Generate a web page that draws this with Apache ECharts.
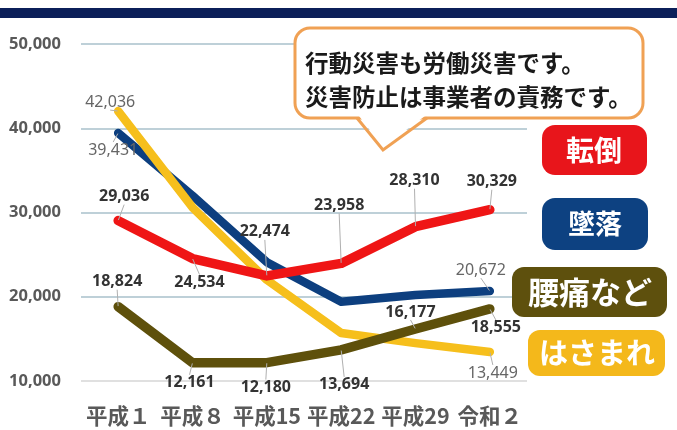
<!DOCTYPE html>
<html><head><meta charset="utf-8">
<script src="https://cdn.jsdelivr.net/npm/echarts@6/dist/echarts.min.js"></script>
<style>html,body{margin:0;padding:0;background:#fff}#c{width:677px;height:430px}</style>
</head><body><div id="c"></div>
<script>
var categories = ['平成１', '平成８', '平成15', '平成22', '平成29', '令和２'];
var yTicks = [10000, 20000, 30000, 40000, 50000];
var tentou = [29036, 24534, 22474, 23958, 28310, 30329];   // 転倒
var tsuiraku = [39431, 32000, 24100, 19400, 20200, 20672]; // 墜落
var youtsuu = [18824, 12161, 12180, 13694, 16177, 18555];  // 腰痛など
var hasamare = [42036, 30600, 22000, 15700, 14500, 13449]; // はさまれ
var seriesNames = ['転倒', '墜落', '腰痛など', 'はさまれ'];
var calloutLines = ['行動災害も労働災害です。', '災害防止は事業者の責務です。'];

var FONT = "'Noto Sans CJK JP', 'Noto Sans', sans-serif";
var NUMFONT = "'Noto Sans', 'DejaVu Sans', sans-serif";

// label offsets (layout only)
var offRed = [[6,-24],[7,24],[-2,-44],[-2,-58],[-1,-46],[2,-28]];
var offOlive = [[-1,-25],[-3,20],[-1,25],[3,35],[-5,-17],[6,19]];
var offBlue = [[-5,17],null,null,null,null,[-9,-21]];
var offYellow = [[-8,-9],null,null,null,null,[3,21]];

function fmt(v){ return v.toLocaleString('en-US'); }

function mkSeries(name, vals, color, width, offs, bold, z){
  return {
    type: 'line', name: name, data: vals, z: z,
    symbol: 'circle', symbolSize: 1, showSymbol: true, showAllSymbol: true,
    itemStyle: {color: color},
    lineStyle: {color: color, width: width, cap: 'round', join: 'round'},
    label: {
      show: true, position: 'inside', opacity: 1,
      formatter: function(p){ return offs[p.dataIndex] ? fmt(p.value) : ''; },
      fontFamily: NUMFONT, fontSize: 16,
      fontWeight: bold ? 'bold' : 'normal',
      color: bold ? '#333' : '#666'
    },
    labelLine: {show: true, lineStyle: {color: '#b0b0b0', width: 1}},
    labelLayout: function(p){
      var o = offs[p.dataIndex];
      if (!o) return {};
      return {dx: o[0], dy: o[1]};
    }
  };
}

var chart = echarts.init(document.getElementById('c'));
var option = {
  backgroundColor: '#fff',
  animation: false,
  grid: {left: 81, right: 150, top: 44, bottom: 49},
  xAxis: {
    type: 'category', data: categories, boundaryGap: true,
    axisLine: {show: false}, axisTick: {show: false},
    axisLabel: {interval: 0, fontFamily: FONT, fontSize: 21.5, fontWeight: 'bold', color: '#595959', margin: 24}
  },
  yAxis: {
    type: 'value', min: 10000, max: 50000, interval: 10000,
    axisLine: {show: false}, axisTick: {show: false},
    axisLabel: {fontFamily: NUMFONT, fontSize: 16.5, fontWeight: 'bold', color: '#595959', margin: 20,
      formatter: function(v){ return fmt(v); }},
    splitLine: {lineStyle: {color: ['#d6d6d6','#a9c0cb','#a9c0cb','#a9c0cb','#a9c0cb'], width: 1.5}}
  },
  series: [
    mkSeries(seriesNames[1], tsuiraku, '#0d3f7f', 8.5, offBlue, false, 2),
    mkSeries(seriesNames[3], hasamare, '#f6bf1c', 8.5, offYellow, false, 3),
    mkSeries(seriesNames[2], youtsuu, '#5e500b', 9.5, offOlive, true, 4),
    mkSeries(seriesNames[0], tentou, '#ef1515', 9.5, offRed, true, 5)
  ],
  graphic: [
    {type: 'rect', z: 10, shape: {x: 0, y: 8, width: 677, height: 10}, style: {fill: '#0b1f59'}},
    {type: 'rect', z: 20, shape: {x: 295, y: 28, width: 348, height: 90, r: 15}, style: {fill: '#fff', stroke: '#f0a154', lineWidth: 3}},
    {type: 'polygon', z: 21, shape: {points: [[359,116],[383,147],[425,116]]}, style: {fill: '#fff'}},
    {type: 'polyline', z: 22, shape: {points: [[357,118],[383,150],[427,118]]}, style: {stroke: '#f0a154', lineWidth: 3, fill: null}},
    {type: 'text', z: 23, x: 305, y: 63, style: {text: calloutLines[0], fontFamily: FONT, fontSize: 23.5, fontWeight: 'bold', fill: '#1a1a1a', verticalAlign: 'middle'}},
    {type: 'text', z: 23, x: 305, y: 97, style: {text: calloutLines[1], fontFamily: FONT, fontSize: 23.5, fontWeight: 'bold', fill: '#1a1a1a', verticalAlign: 'middle'}},
    {type: 'rect', z: 20, shape: {x: 542, y: 125, width: 105, height: 50, r: 13}, style: {fill: '#e8151b'}},
    {type: 'text', z: 21, x: 594, y: 150, style: {text: seriesNames[0], fontFamily: FONT, fontSize: 28, fontWeight: 'bold', fill: '#fff', align: 'center', verticalAlign: 'middle'}},
    {type: 'rect', z: 20, shape: {x: 542, y: 198, width: 106, height: 52, r: 13}, style: {fill: '#0d4181'}},
    {type: 'text', z: 21, x: 595, y: 224, style: {text: seriesNames[1], fontFamily: FONT, fontSize: 27, fontWeight: 'bold', fill: '#fff', align: 'center', verticalAlign: 'middle'}},
    {type: 'rect', z: 20, shape: {x: 512, y: 267, width: 155, height: 50, r: 12}, style: {fill: '#5e500d'}},
    {type: 'text', z: 21, x: 590, y: 292, style: {text: seriesNames[2], fontFamily: FONT, fontSize: 31, fontWeight: 'bold', fill: '#fff', align: 'center', verticalAlign: 'middle'}},
    {type: 'rect', z: 20, shape: {x: 528, y: 330, width: 137, height: 46, r: 12}, style: {fill: '#f4b81b'}},
    {type: 'text', z: 21, x: 597, y: 353, style: {text: seriesNames[3], fontFamily: FONT, fontSize: 29, fontWeight: 'bold', fill: '#fff', align: 'center', verticalAlign: 'middle'}}
  ]
};
chart.setOption(option);
</script></body></html>
